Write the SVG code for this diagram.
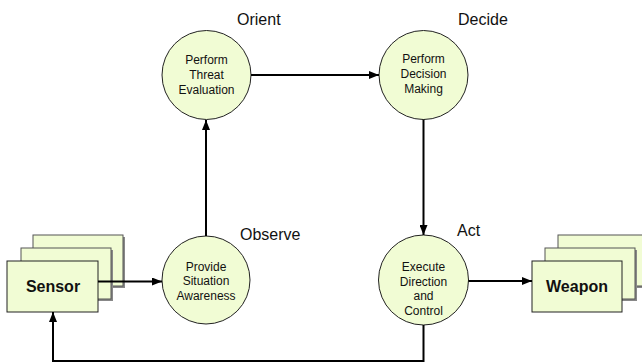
<svg xmlns="http://www.w3.org/2000/svg" width="642" height="364" viewBox="0 0 642 364">
<style>
.bg{fill:#ffffff}
.node circle{fill:#f1fcd4;stroke:#222;stroke-width:1}
.box{fill:#f1fcd4;stroke:#222;stroke-width:1}
.boxb{fill:#f1fcd4;stroke:#555;stroke-width:1}
.shadow{fill:#888}
.ct{font-family:"Liberation Sans",Arial,sans-serif;font-size:12px;fill:#111;text-anchor:middle}
.bt{font-family:"Liberation Sans",Arial,sans-serif;font-size:16px;font-weight:bold;fill:#111;text-anchor:middle}
.lbl{font-family:"Liberation Sans",Arial,sans-serif;font-size:16px;fill:#111}
.conn{fill:none;stroke:#000;stroke-width:2}
</style>
<defs>
<marker id="ah" viewBox="0 0 10 8" refX="10" refY="4" markerWidth="10" markerHeight="8" markerUnits="userSpaceOnUse" orient="auto">
<path d="M0,0 L10,4 L0,8 z" fill="#000"/>
</marker>
</defs>
<rect class="bg" x="0" y="0" width="642" height="364"/>

<g id="sensor">
<rect class="shadow" x="35" y="237" width="90" height="51"/>
<rect class="boxb" x="33" y="235" width="90" height="51"/>
<rect class="shadow" x="23" y="250" width="90" height="51"/>
<rect class="boxb" x="21" y="248" width="90" height="51"/>
<rect class="box" x="7" y="261" width="91" height="51"/>
<text class="bt" x="53" y="292">Sensor</text>
</g>

<g id="weapon">
<rect class="shadow" x="560" y="237" width="90" height="51"/>
<rect class="boxb" x="558" y="235" width="90" height="51"/>
<rect class="shadow" x="547" y="250" width="90" height="51"/>
<rect class="boxb" x="545" y="248" width="90" height="51"/>
<rect class="box" x="532" y="261" width="90" height="51"/>
<text class="bt" x="577" y="292">Weapon</text>
</g>

<g id="threat" class="node">
<circle cx="206.5" cy="75" r="44.5"/>
<text class="ct" x="206.5" y="64">Perform</text>
<text class="ct" x="206.5" y="79">Threat</text>
<text class="ct" x="206.5" y="94">Evaluation</text>
</g>

<g id="decision" class="node">
<circle cx="423.5" cy="75" r="44.5"/>
<text class="ct" x="423.5" y="63">Perform</text>
<text class="ct" x="423.5" y="78">Decision</text>
<text class="ct" x="423.5" y="93">Making</text>
</g>

<g id="provide" class="node">
<circle cx="206" cy="280" r="44"/>
<text class="ct" x="206" y="271">Provide</text>
<text class="ct" x="206" y="285">Situation</text>
<text class="ct" x="206" y="300">Awareness</text>
</g>

<g id="execute" class="node">
<circle cx="423.5" cy="280" r="45"/>
<text class="ct" x="423.5" y="271">Execute</text>
<text class="ct" x="423.5" y="286">Direction</text>
<text class="ct" x="423.5" y="300">and</text>
<text class="ct" x="423.5" y="315">Control</text>
</g>

<g id="labels">
<text class="lbl" x="237" y="25">Orient</text>
<text class="lbl" x="458" y="25">Decide</text>
<text class="lbl" x="240" y="240">Observe</text>
<text class="lbl" x="457" y="236">Act</text>
</g>

<g id="connectors">
<path class="conn" d="M98,281.5 H162" marker-end="url(#ah)"/>
<path class="conn" d="M206,236 V120" marker-end="url(#ah)"/>
<path class="conn" d="M251,75 H379" marker-end="url(#ah)"/>
<path class="conn" d="M423.5,119.5 V235" marker-end="url(#ah)"/>
<path class="conn" d="M468.5,281 H532" marker-end="url(#ah)"/>
<path class="conn" d="M423.5,325 V361 H53 V312" marker-end="url(#ah)"/>
</g>
</svg>
